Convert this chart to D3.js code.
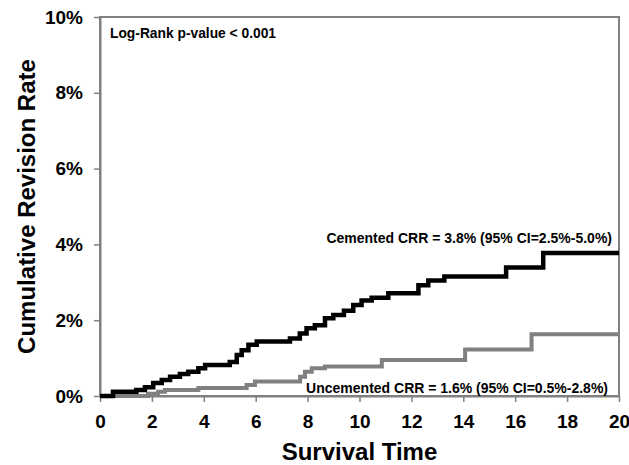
<!DOCTYPE html>
<html>
<head>
<meta charset="utf-8">
<script src="https://cdn.jsdelivr.net/npm/d3@7"></script>
<style>
  body { margin: 0; background: #fff; }
  text { font-family: "Liberation Sans", Arial, sans-serif; font-weight: bold; fill: #000; }
</style>
</head>
<body>
<svg id="chart" width="629" height="465"></svg>
<script>
// Kaplan-Meier style cumulative revision curves (step after each time)
const cementedTimes = [0, 0.5, 1.4, 1.73, 2.05, 2.38, 2.7, 3.08, 3.4, 3.79, 4.05, 5.0, 5.27, 5.46, 5.72, 6.04, 7.32, 7.7, 7.96, 8.28, 8.67, 8.99, 9.4, 9.76, 10.08, 10.47, 11.11, 12.27, 12.65, 13.27, 15.65, 17.08, 20];
const cementedRates = [0, 0.11, 0.16, 0.23, 0.34, 0.42, 0.51, 0.58, 0.64, 0.73, 0.82, 0.9, 1.08, 1.21, 1.35, 1.44, 1.52, 1.65, 1.79, 1.87, 2.05, 2.14, 2.25, 2.4, 2.52, 2.59, 2.71, 2.92, 3.05, 3.15, 3.39, 3.77, 3.77];
const uncementedTimes = [0, 1.85, 2.24, 2.5, 3.79, 5.65, 5.97, 7.71, 7.9, 8.16, 8.67, 10.86, 14.07, 16.63, 20];
const uncementedRates = [0, 0.06, 0.11, 0.16, 0.21, 0.29, 0.38, 0.51, 0.64, 0.73, 0.78, 0.95, 1.23, 1.63, 1.63];

const xTicks = [0, 2, 4, 6, 8, 10, 12, 14, 16, 18, 20];
const yTicks = [0, 2, 4, 6, 8, 10];

const svg = d3.select("#chart");
const margin = {top: 17, right: 10, bottom: 69, left: 100};
const width = +svg.attr("width") - margin.left - margin.right;
const height = +svg.attr("height") - margin.top - margin.bottom;

const x = d3.scaleLinear().domain([0, 20]).range([0, width]);
const y = d3.scaleLinear().domain([0, 10]).range([height, 0]);

const g = svg.append("g")
    .attr("transform", `translate(${margin.left},${margin.top})`);

// frame (top and right)
g.append("rect")
    .attr("x", 0).attr("y", 0)
    .attr("width", width).attr("height", height)
    .attr("fill", "none")
    .attr("stroke", "#808080")
    .attr("stroke-width", 2);

const xAxis = g.append("g")
    .attr("transform", `translate(0,${height})`)
    .call(d3.axisBottom(x).tickValues(xTicks).tickSize(6).tickSizeOuter(0).tickPadding(13));
xAxis.selectAll("text").attr("font-size", 19).attr("font-family", null).attr("fill", "#000");

const yAxis = g.append("g")
    .call(d3.axisLeft(y).tickValues(yTicks).tickSize(6).tickSizeOuter(0).tickPadding(11).tickFormat(d => d + "%"));
yAxis.selectAll("text").attr("font-size", 19).attr("font-family", null).attr("fill", "#000");

[xAxis, yAxis].forEach(a => {
    a.select(".domain").attr("stroke", "#808080").attr("stroke-width", 2);
    a.selectAll(".tick line").attr("stroke", "#808080").attr("stroke-width", 1.5);
});

const line = d3.line()
    .x(d => x(d[0]))
    .y(d => y(d[1]))
    .curve(d3.curveStepAfter);

g.append("path")
    .datum(d3.zip(uncementedTimes, uncementedRates))
    .attr("fill", "none")
    .attr("stroke", "#808080")
    .attr("stroke-width", 4)
    .attr("d", line);

g.append("path")
    .datum(d3.zip(cementedTimes, cementedRates))
    .attr("fill", "none")
    .attr("stroke", "#000")
    .attr("stroke-width", 4.5)
    .attr("d", line);

// annotations
g.append("text")
    .attr("x", 10).attr("y", 21)
    .attr("font-size", 13.8)
    .text("Log-Rank p-value < 0.001");

g.append("text")
    .attr("x", width - 7).attr("y", y(4.05))
    .attr("text-anchor", "end")
    .attr("font-size", 14)
    .text("Cemented CRR = 3.8% (95% CI=2.5%-5.0%)");

g.append("text")
    .attr("x", width - 11).attr("y", y(0.08))
    .attr("text-anchor", "end")
    .attr("font-size", 14)
    .text("Uncemented CRR = 1.6% (95% CI=0.5%-2.8%)");

// axis titles
svg.append("text")
    .attr("x", margin.left + width / 2)
    .attr("y", 460)
    .attr("text-anchor", "middle")
    .attr("font-size", 24)
    .text("Survival Time");

svg.append("text")
    .attr("transform", `translate(35,${margin.top + height / 2}) rotate(-90)`)
    .attr("text-anchor", "middle")
    .attr("font-size", 24)
    .text("Cumulative Revision Rate");
</script>
</body>
</html>
